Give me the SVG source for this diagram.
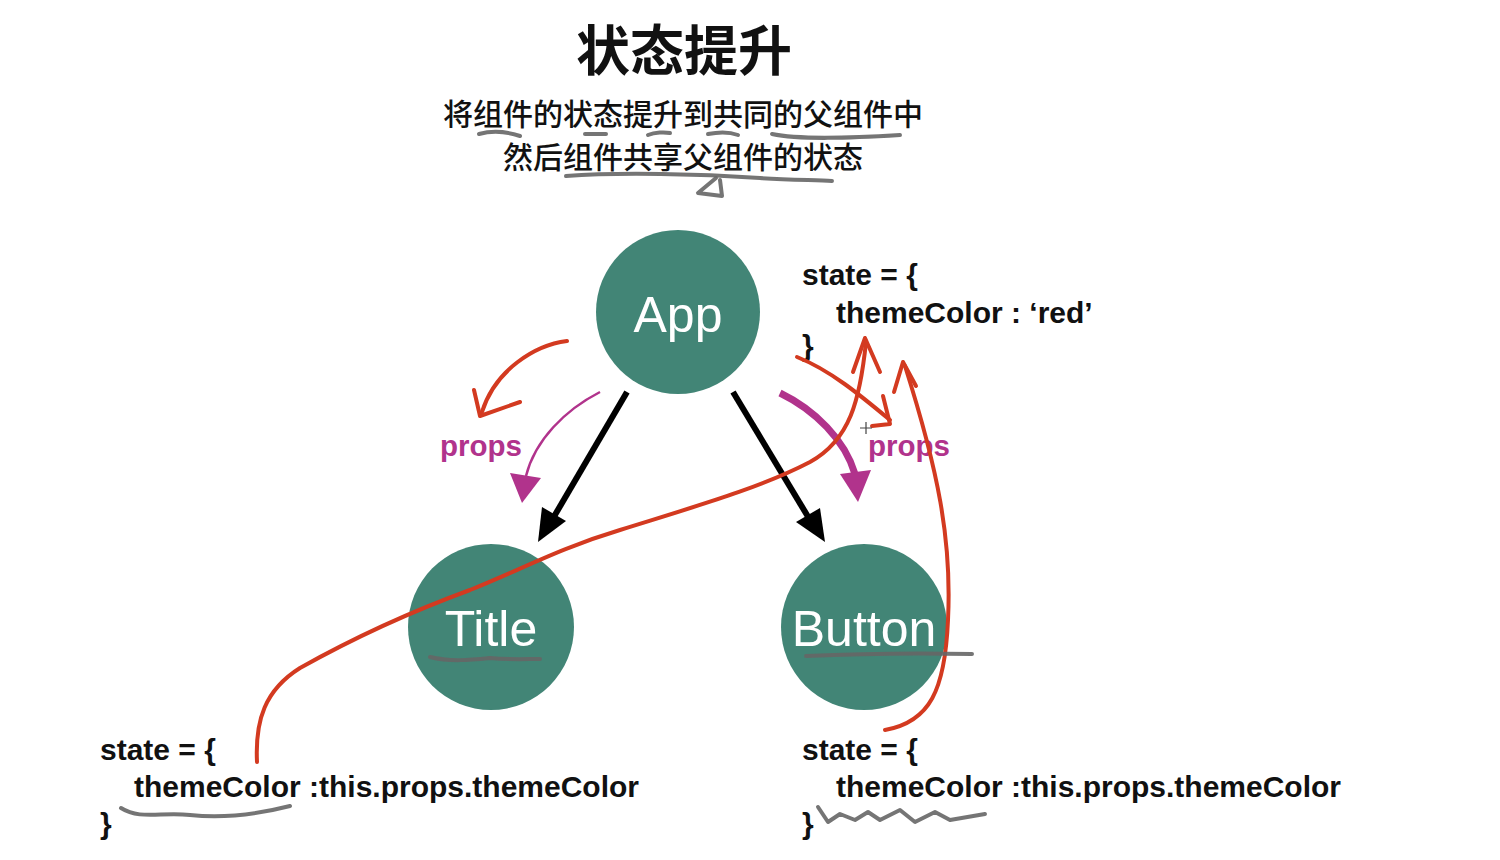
<svg xmlns="http://www.w3.org/2000/svg" width="1500" height="860" viewBox="0 0 1500 860">
<defs>
<style>
.cjk{font-family:"Noto Sans CJK SC","Noto Sans",sans-serif;fill:#111;text-anchor:middle}
.node{fill:#428576}
.nlabel{font-family:"Liberation Sans","Noto Sans",sans-serif;fill:#fff;font-size:50px;text-anchor:middle}
.code{font-family:"Liberation Sans",Arial,sans-serif;font-size:30px;font-weight:bold;fill:#111}
.props{font-family:"Liberation Sans",Arial,sans-serif;font-size:29.5px;font-weight:bold;fill:#b1338c}
.red{fill:none;stroke:#d33a20;stroke-width:4;stroke-linecap:round;stroke-linejoin:round}
.gray{fill:none;stroke:#666;stroke-width:4;stroke-linecap:round;stroke-linejoin:round;opacity:0.9}
.black{stroke:#000;stroke-width:6;fill:none}
</style>
</defs>
<rect width="1500" height="860" fill="#fff"/>

<g id="heading">
<text class="cjk" x="684" y="71" font-size="54" font-weight="bold">状态提升</text>
<text class="cjk" x="683" y="125" font-size="30" font-weight="500">将组件的状态提升到共同的父组件中</text>
<text class="cjk" x="683" y="168" font-size="30" font-weight="500">然后组件共享父组件的状态</text>
</g>

<g id="node-app"><circle class="node" cx="678" cy="312" r="82"/><text class="nlabel" x="678" y="332">App</text></g>
<g id="node-title"><circle class="node" cx="491" cy="627" r="83"/><text class="nlabel" x="491" y="646">Title</text></g>
<g id="node-button"><circle class="node" cx="864" cy="627" r="83"/><text class="nlabel" x="864" y="646">Button</text></g>

<g id="state-app" class="code">
<text x="802" y="285">state = {</text>
<text x="836" y="323">themeColor : ‘red’</text>
<text x="802" y="356">}</text>
</g>
<g id="state-title" class="code">
<text x="100" y="760">state = {</text>
<text x="134" y="797">themeColor :this.props.themeColor</text>
<text x="100" y="834">}</text>
</g>
<g id="state-button" class="code">
<text x="802" y="760">state = {</text>
<text x="836" y="797">themeColor :this.props.themeColor</text>
<text x="802" y="834">}</text>
</g>

<g id="connectors">
<path class="black" d="M627,392 L552,520"/>
<polygon points="538,542 566,521 542,507" fill="#000"/>
<path class="black" d="M733,392 L810,520"/>
<polygon points="825,542 820,508 796,522" fill="#000"/>
<path d="M600,392 C565,410 535,440 526,476" fill="none" stroke="#b1338c" stroke-width="2.5"/>
<polygon points="510,473 541,478 522,503" fill="#b1338c"/>
<path d="M780,393 C815,410 845,440 855,474" fill="none" stroke="#b1338c" stroke-width="7"/>
<polygon points="840,474 871,470 858,502" fill="#b1338c"/>
<text class="props" x="440" y="456">props</text>
<text class="props" x="868" y="456">props</text>
</g>

<g id="annotations">
<path class="red" d="M567,341 C535,345 495,370 482,412"/>
<path class="red" d="M474,390 L480,416 L520,402"/>
<path class="red" d="M257,762 C255,720 265,690 300,668 C350,640 410,612 470,590 C520,570 560,548 620,530 C700,505 760,488 810,462 C850,440 860,400 866,342"/>
<path class="red" d="M853,372 L865,338 L880,372"/>
<path class="red" d="M797,357 C830,370 860,395 890,420"/>
<path class="red" d="M883,396 L890,424 L872,426"/>
<path class="red" d="M885,730 C930,722 945,690 948,620 C952,540 938,470 905,366"/>
<path class="red" d="M894,392 L903,362 L916,386"/>
<path d="M860,428 L872,428 M866,422 L866,434" stroke="#444" stroke-width="1.2"/>

<path class="gray" d="M479,134 C490,131 505,131 520,136"/>
<path class="gray" d="M585,134 L606,134"/>
<path class="gray" d="M648,135 C655,132 665,132 670,133"/>
<path class="gray" d="M708,134 C718,132 730,132 738,135"/>
<path class="gray" d="M772,134 C800,140 850,138 900,135"/>
<path class="gray" d="M566,176 C620,172 700,174 760,178 C790,180 815,180 832,181"/>
<path class="gray" d="M716,178 L698,193 L722,196 L720,180"/>
<path class="gray" d="M430,657 C450,662 470,660 490,658 C510,660 525,659 540,659"/>
<path class="gray" d="M806,656 C850,654 920,653 972,654"/>
<path class="gray" d="M121,808 C140,820 160,812 190,815 C220,818 255,815 290,806"/>
<path class="gray" d="M818,807 L828,822 L840,814 L855,820 L868,812 L880,820 L900,810 L915,822 L935,812 L950,820 L985,814"/>
</g>
</svg>
